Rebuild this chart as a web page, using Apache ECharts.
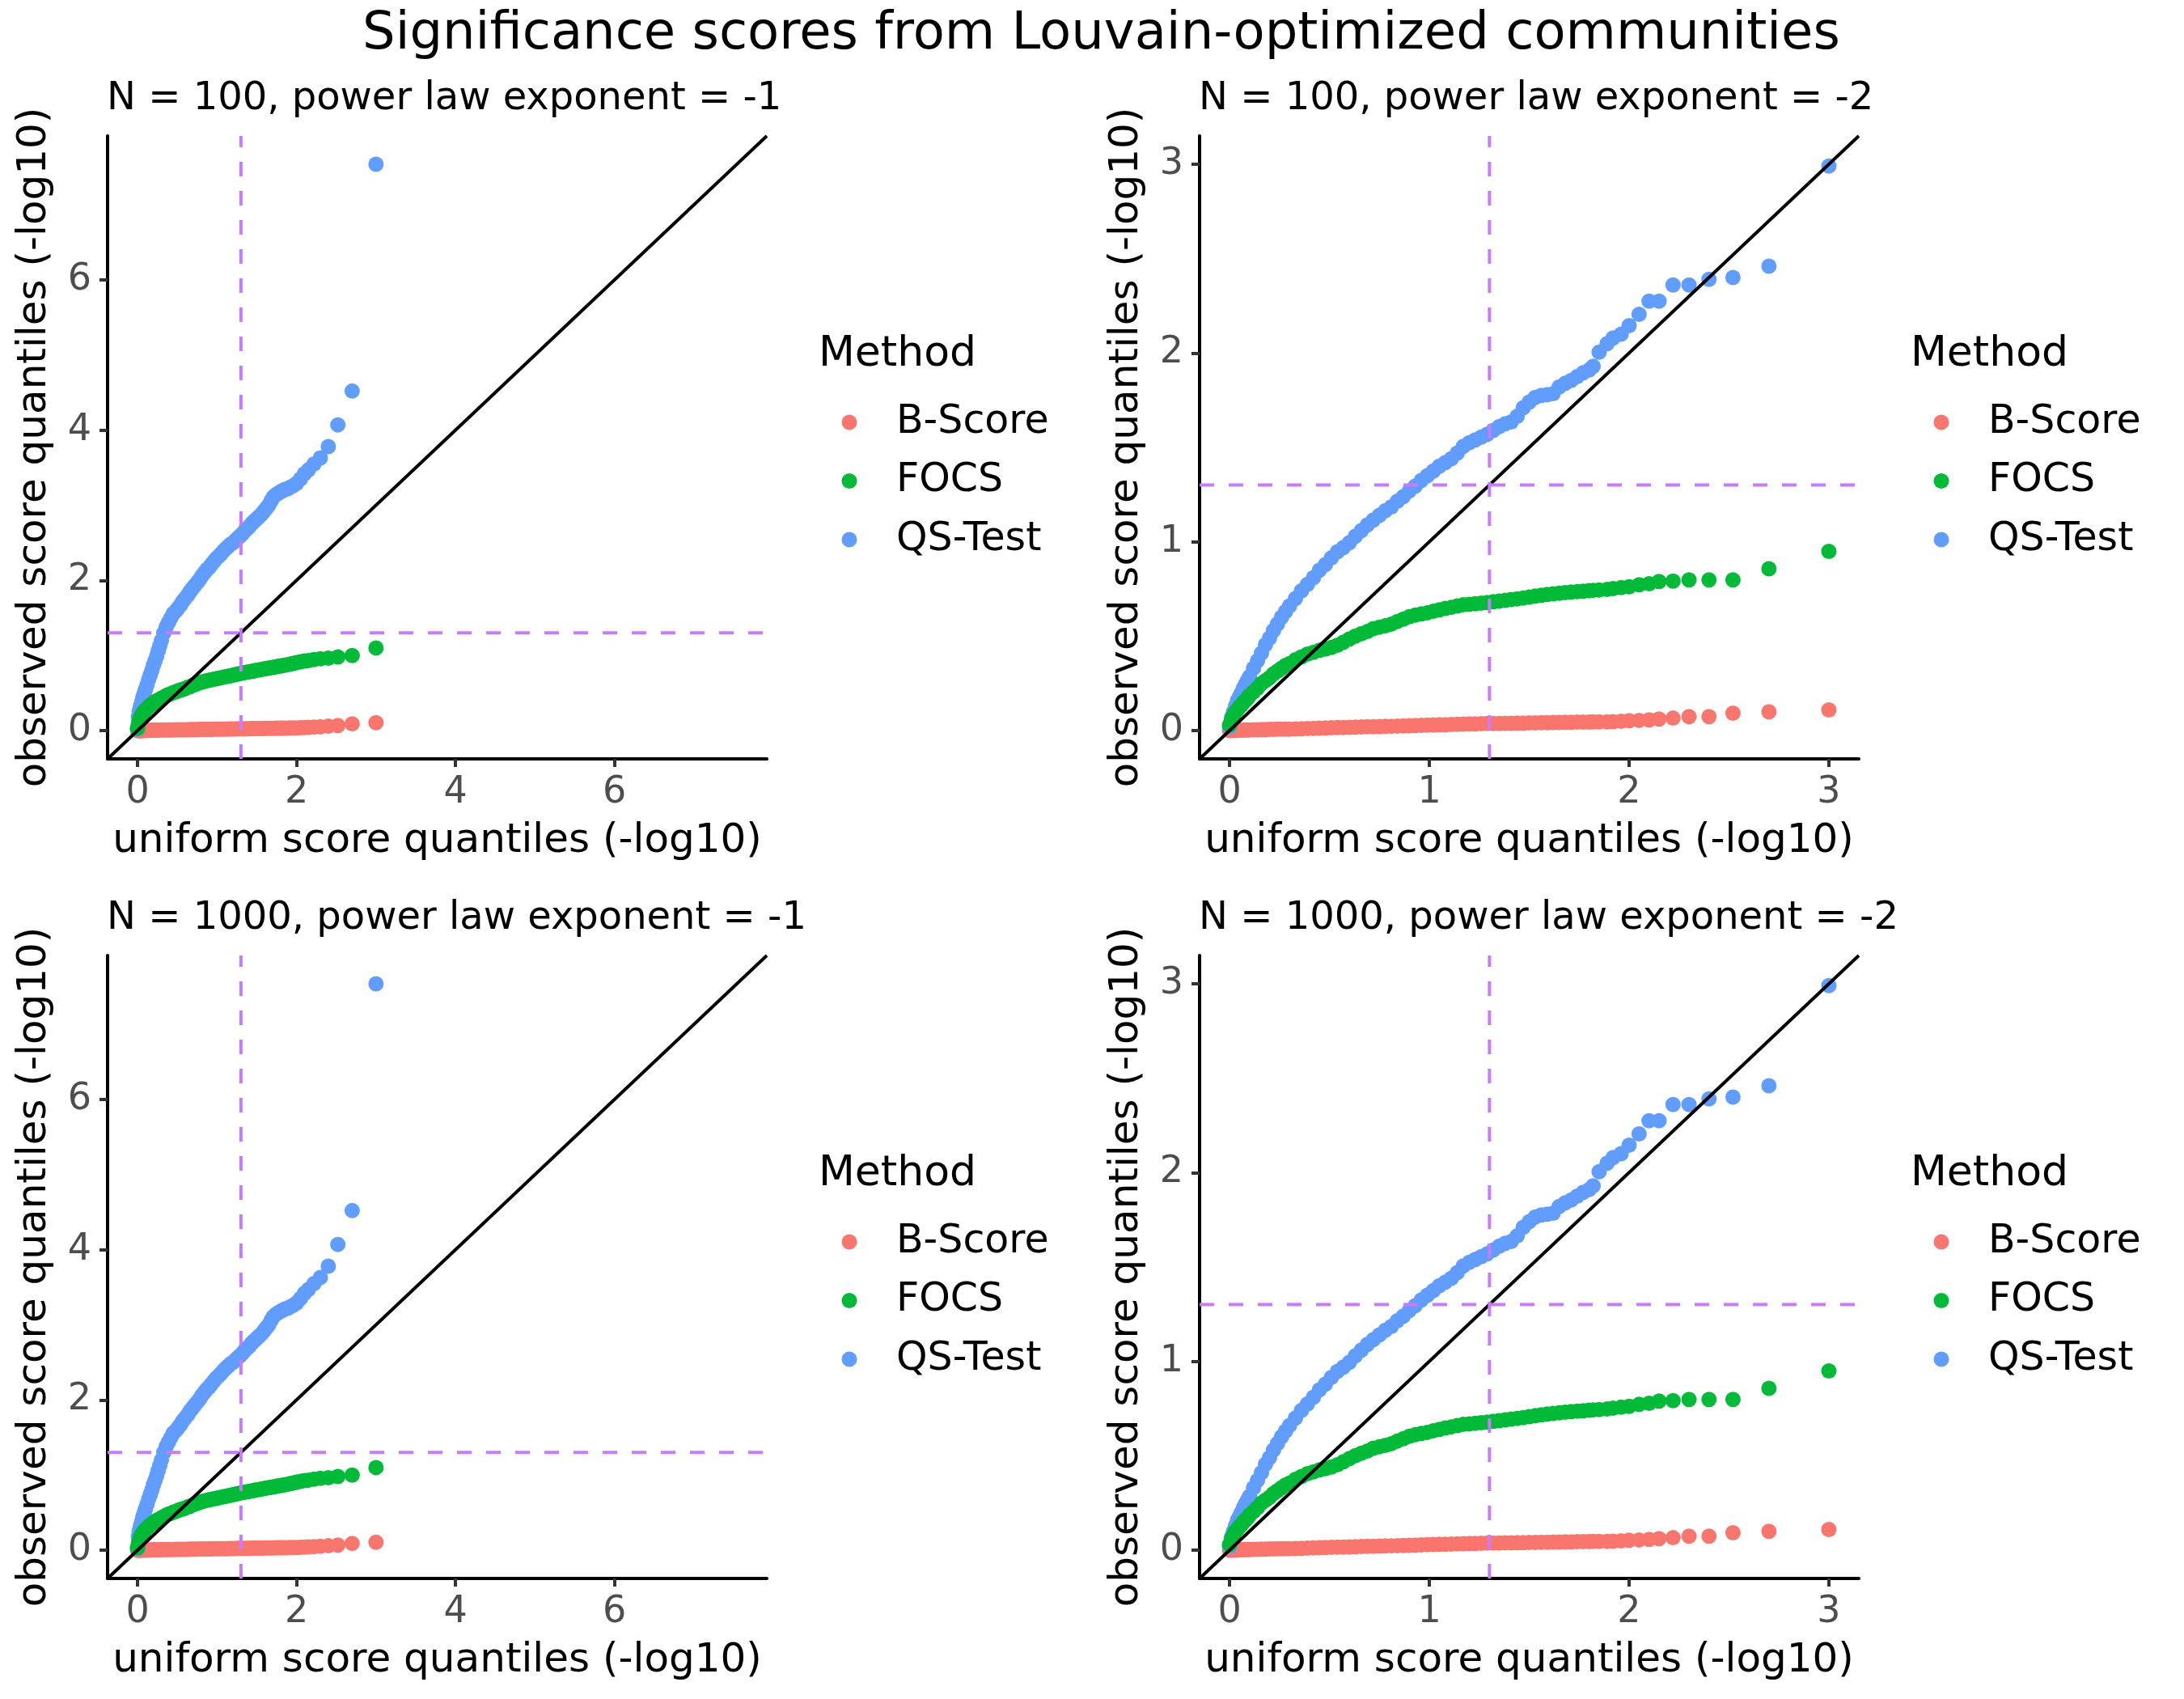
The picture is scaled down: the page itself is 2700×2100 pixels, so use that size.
<!DOCTYPE html>
<html>
<head>
<meta charset="utf-8">
<script src="https://cdn.jsdelivr.net/npm/echarts@6/dist/echarts.min.js"></script>
<style>
html, body { margin: 0; padding: 0; background: #fff; }
#chart { width: 2700px; height: 2100px; }
</style>
</head>
<body>
<div id="chart"></div>
<script>
// uniform score quantiles (-log10), shared x for every method and panel
var uniformQ = [
  0.00, 0.01, 0.02, 0.03, 0.04, 0.05, 0.06, 0.07, 0.08, 0.09,
  0.10, 0.12, 0.14, 0.16, 0.18, 0.20, 0.22, 0.24, 0.26, 0.28,
  0.30, 0.33, 0.36, 0.39, 0.42, 0.45, 0.48, 0.51, 0.54, 0.57,
  0.60, 0.63, 0.66, 0.69, 0.72, 0.75, 0.78, 0.81, 0.84, 0.87,
  0.90, 0.93, 0.96, 0.99, 1.02, 1.05, 1.08, 1.11, 1.14, 1.17,
  1.20, 1.23, 1.26, 1.29, 1.32, 1.35, 1.38, 1.41, 1.44, 1.47,
  1.50, 1.53, 1.56, 1.59, 1.62, 1.65, 1.68, 1.71, 1.74, 1.77,
  1.80, 1.82, 1.85, 1.89, 1.92, 1.96, 2.00, 2.05, 2.10, 2.15,
  2.22, 2.30, 2.40, 2.52, 2.70, 3.00
];

// observed score quantiles, power law exponent = -1
var bscoreExp1 = [
  0.000, 0.000, 0.001, 0.001, 0.001, 0.002, 0.002, 0.002, 0.002, 0.003,
  0.003, 0.003, 0.004, 0.004, 0.004, 0.005, 0.005, 0.006, 0.006, 0.006,
  0.007, 0.007, 0.008, 0.008, 0.009, 0.009, 0.010, 0.010, 0.011, 0.011,
  0.012, 0.012, 0.013, 0.013, 0.014, 0.014, 0.015, 0.015, 0.016, 0.016,
  0.017, 0.017, 0.018, 0.018, 0.019, 0.019, 0.020, 0.020, 0.021, 0.021,
  0.022, 0.022, 0.023, 0.023, 0.024, 0.024, 0.025, 0.025, 0.026, 0.026,
  0.027, 0.027, 0.028, 0.028, 0.029, 0.029, 0.030, 0.030, 0.031, 0.031,
  0.032, 0.032, 0.033, 0.033, 0.034, 0.035, 0.036, 0.038, 0.040, 0.042,
  0.047, 0.052, 0.058, 0.068, 0.090, 0.105
];
var focsExp1 = [
  0.03, 0.09, 0.12, 0.15, 0.18, 0.20, 0.22, 0.235, 0.25, 0.26,
  0.275, 0.295, 0.315, 0.335, 0.35, 0.365, 0.38, 0.395, 0.405, 0.415,
  0.43, 0.445, 0.465, 0.48, 0.49, 0.505, 0.515, 0.53, 0.54, 0.55,
  0.56, 0.575, 0.585, 0.60, 0.61, 0.625, 0.635, 0.645, 0.655, 0.662,
  0.67, 0.677, 0.684, 0.69, 0.697, 0.704, 0.71, 0.717, 0.724, 0.73,
  0.737, 0.745, 0.752, 0.76, 0.767, 0.773, 0.778, 0.784, 0.79, 0.796,
  0.802, 0.808, 0.814, 0.82, 0.826, 0.832, 0.838, 0.843, 0.849, 0.855,
  0.86, 0.865, 0.87, 0.878, 0.886, 0.895, 0.905, 0.915, 0.925, 0.932,
  0.945, 0.955, 0.965, 0.98, 1.00, 1.10
];
var qsExp1 = [
  0.02, 0.18, 0.25, 0.29, 0.33, 0.37, 0.41, 0.45, 0.48, 0.52,
  0.55, 0.61, 0.68, 0.74, 0.80, 0.87, 0.93, 0.99, 1.06, 1.13,
  1.20, 1.30, 1.38, 1.44, 1.50, 1.56, 1.59, 1.63, 1.67, 1.72,
  1.76, 1.80, 1.85, 1.89, 1.93, 1.97, 2.01, 2.06, 2.10, 2.14,
  2.17, 2.21, 2.25, 2.29, 2.32, 2.35, 2.39, 2.42, 2.45, 2.48,
  2.50, 2.53, 2.56, 2.59, 2.62, 2.66, 2.69, 2.72, 2.76, 2.79,
  2.82, 2.85, 2.88, 2.92, 2.96, 3.00, 3.06, 3.11, 3.14, 3.16,
  3.18, 3.19, 3.21, 3.22, 3.24, 3.26, 3.29, 3.35, 3.42, 3.47,
  3.55, 3.63, 3.78, 4.07, 4.52, 7.54
];

// observed score quantiles, power law exponent = -2
var bscoreExp2 = [
  0.000, 0.001, 0.001, 0.001, 0.002, 0.002, 0.002, 0.003, 0.003, 0.003,
  0.003, 0.004, 0.004, 0.005, 0.005, 0.006, 0.006, 0.007, 0.007, 0.008,
  0.008, 0.009, 0.010, 0.011, 0.012, 0.013, 0.014, 0.015, 0.016, 0.016,
  0.017, 0.018, 0.019, 0.020, 0.020, 0.021, 0.022, 0.023, 0.024, 0.025,
  0.026, 0.027, 0.028, 0.029, 0.030, 0.031, 0.031, 0.032, 0.033, 0.034,
  0.035, 0.035, 0.036, 0.037, 0.038, 0.038, 0.039, 0.039, 0.040, 0.040,
  0.041, 0.041, 0.042, 0.042, 0.043, 0.043, 0.044, 0.044, 0.045, 0.045,
  0.045, 0.046, 0.046, 0.046, 0.047, 0.049, 0.052, 0.054, 0.057, 0.061,
  0.066, 0.074, 0.074, 0.092, 0.100, 0.109
];
var focsExp2 = [
  0.03, 0.06, 0.08, 0.10, 0.11, 0.125, 0.135, 0.15, 0.16, 0.17,
  0.185, 0.205, 0.225, 0.25, 0.265, 0.28, 0.30, 0.315, 0.33, 0.345,
  0.355, 0.375, 0.39, 0.405, 0.415, 0.425, 0.432, 0.44, 0.452, 0.468,
  0.485, 0.50, 0.513, 0.525, 0.54, 0.548, 0.555, 0.564, 0.578, 0.59,
  0.603, 0.612, 0.618, 0.624, 0.632, 0.64, 0.647, 0.653, 0.66, 0.666,
  0.669, 0.672, 0.675, 0.678, 0.682, 0.686, 0.69, 0.694, 0.698, 0.702,
  0.707, 0.712, 0.717, 0.721, 0.724, 0.727, 0.731, 0.734, 0.736, 0.738,
  0.741, 0.743, 0.745, 0.748, 0.752, 0.757, 0.762, 0.772, 0.778, 0.79,
  0.792, 0.798, 0.798, 0.798, 0.857, 0.949
];
var qsExp2 = [
  0.02, 0.07, 0.10, 0.13, 0.16, 0.18, 0.20, 0.225, 0.245, 0.265,
  0.285, 0.33, 0.37, 0.41, 0.455, 0.49, 0.53, 0.565, 0.60, 0.63,
  0.66, 0.70, 0.74, 0.775, 0.81, 0.85, 0.88, 0.915, 0.947, 0.97,
  0.995, 1.03, 1.06, 1.09, 1.115, 1.14, 1.165, 1.185, 1.215, 1.24,
  1.27, 1.295, 1.325, 1.35, 1.375, 1.40, 1.42, 1.44, 1.47, 1.505,
  1.525, 1.54, 1.555, 1.57, 1.59, 1.61, 1.625, 1.635, 1.665, 1.71,
  1.74, 1.765, 1.775, 1.78, 1.785, 1.82, 1.84, 1.855, 1.875, 1.895,
  1.91, 1.93, 2.005, 2.05, 2.08, 2.10, 2.145, 2.205, 2.275, 2.275,
  2.36, 2.36, 2.39, 2.40, 2.46, 2.99
];

var methods = ['B-Score', 'FOCS', 'QS-Test'];
var methodColors = ['#F8766D', '#00BA38', '#619CFF'];
var ticksExp1 = [0, 2, 4, 6];
var ticksExp2 = [0, 1, 2, 3];
var limitsExp1 = [-0.377, 7.917];
var limitsExp2 = [-0.15, 3.15];
var sigLevel = 1.301; // -log10(0.05)

var panelTitles = [
  'N = 100, power law exponent = -1',
  'N = 100, power law exponent = -2',
  'N = 1000, power law exponent = -1',
  'N = 1000, power law exponent = -2'
];
var panels = [
  {title: panelTitles[0], lim: limitsExp1, ticks: ticksExp1, ys: [bscoreExp1, focsExp1, qsExp1]},
  {title: panelTitles[1], lim: limitsExp2, ticks: ticksExp2, ys: [bscoreExp2, focsExp2, qsExp2]},
  {title: panelTitles[2], lim: limitsExp1, ticks: ticksExp1, ys: [bscoreExp1, focsExp1, qsExp1]},
  {title: panelTitles[3], lim: limitsExp2, ticks: ticksExp2, ys: [bscoreExp2, focsExp2, qsExp2]}
];

var FONT = 'DejaVu Sans';
var colLeft = [133, 1483];
var rowTop = [168, 1181];
var gridW = 815, gridH = 770;

var grids = [], xAxes = [], yAxes = [], series = [], legends = [], graphics = [];

graphics.push({
  type: 'text', left: 448, top: 11,
  style: {text: 'Significance scores from Louvain-optimized communities', font: '64px "' + FONT + '"', fill: '#000'}
});

panels.forEach(function(p, k) {
  var col = k % 2, row = Math.floor(k / 2);
  grids.push({left: colLeft[col], top: rowTop[row], width: gridW, height: gridH});

  var axisCommon = {
    gridIndex: k, type: 'value', min: p.lim[0], max: p.lim[1],
    splitLine: {show: false},
    axisLine: {show: true, onZero: false, lineStyle: {color: '#000', width: 4}},
    axisTick: {show: true, length: 10, customValues: p.ticks, lineStyle: {color: '#333', width: 4}},
    axisLabel: {customValues: p.ticks, color: '#4D4D4D', fontSize: 46, fontFamily: FONT},
    nameLocation: 'middle',
    nameTextStyle: {fontSize: 50, fontFamily: FONT, color: '#000'}
  };
  var xa = JSON.parse(JSON.stringify(axisCommon));
  xa.name = 'uniform score quantiles (-log10)';
  xa.nameGap = 77;
  xa.axisLabel.margin = 19;
  xAxes.push(xa);
  var ya = JSON.parse(JSON.stringify(axisCommon));
  ya.name = 'observed score quantiles (-log10)';
  ya.nameGap = 65;
  ya.axisLabel.margin = 20;
  yAxes.push(ya);

  // points: B-Score, QS-Test, then FOCS on top
  [0, 2, 1].forEach(function(m) {
    series.push({
      type: 'scatter', name: methods[m], xAxisIndex: k, yAxisIndex: k,
      data: uniformQ.map(function(q, i) { return [q, p.ys[m][i]]; }),
      symbol: 'circle', symbolSize: 19,
      itemStyle: {color: methodColors[m], opacity: 1},
      silent: true, z: 2
    });
  });

  // reference lines: y = x, and the 0.05 level on both axes
  var refLines = [
    {pts: [[p.lim[0], p.lim[0]], [p.lim[1], p.lim[1]]], color: '#000', type: 'solid'},
    {pts: [[sigLevel, p.lim[0]], [sigLevel, p.lim[1]]], color: '#C77CFF', type: [18, 18]},
    {pts: [[p.lim[0], sigLevel], [p.lim[1], sigLevel]], color: '#C77CFF', type: [18, 18]}
  ];
  refLines.forEach(function(r) {
    series.push({
      type: 'line', xAxisIndex: k, yAxisIndex: k, data: r.pts,
      symbol: 'none', silent: true, z: 3,
      lineStyle: {color: r.color, width: 4, type: r.type}
    });
  });

  graphics.push({
    type: 'text', left: colLeft[col] - 1, top: rowTop[row] - 69,
    style: {text: p.title, font: '48px "' + FONT + '"', fill: '#000'}
  });
  graphics.push({
    type: 'text', left: colLeft[col] + 879, top: rowTop[row] + 244,
    style: {text: 'Method', font: '52px "' + FONT + '"', fill: '#000'}
  });

  legends.push({
    data: methods, orient: 'vertical',
    left: colLeft[col] + 907.5, top: rowTop[row] + 329.5,
    itemWidth: 19, itemHeight: 19, itemGap: 23.5, padding: 0,
    icon: 'circle', selectedMode: false,
    textStyle: {fontSize: 49, fontFamily: FONT, color: '#000', lineHeight: 49, padding: [0, 0, 0, 43.5]}
  });
});

var chart = echarts.init(document.getElementById('chart'));
chart.setOption({
  backgroundColor: '#fff',
  animation: false,
  grid: grids,
  xAxis: xAxes,
  yAxis: yAxes,
  legend: legends,
  series: series,
  graphic: graphics
});
</script>
</body>
</html>
